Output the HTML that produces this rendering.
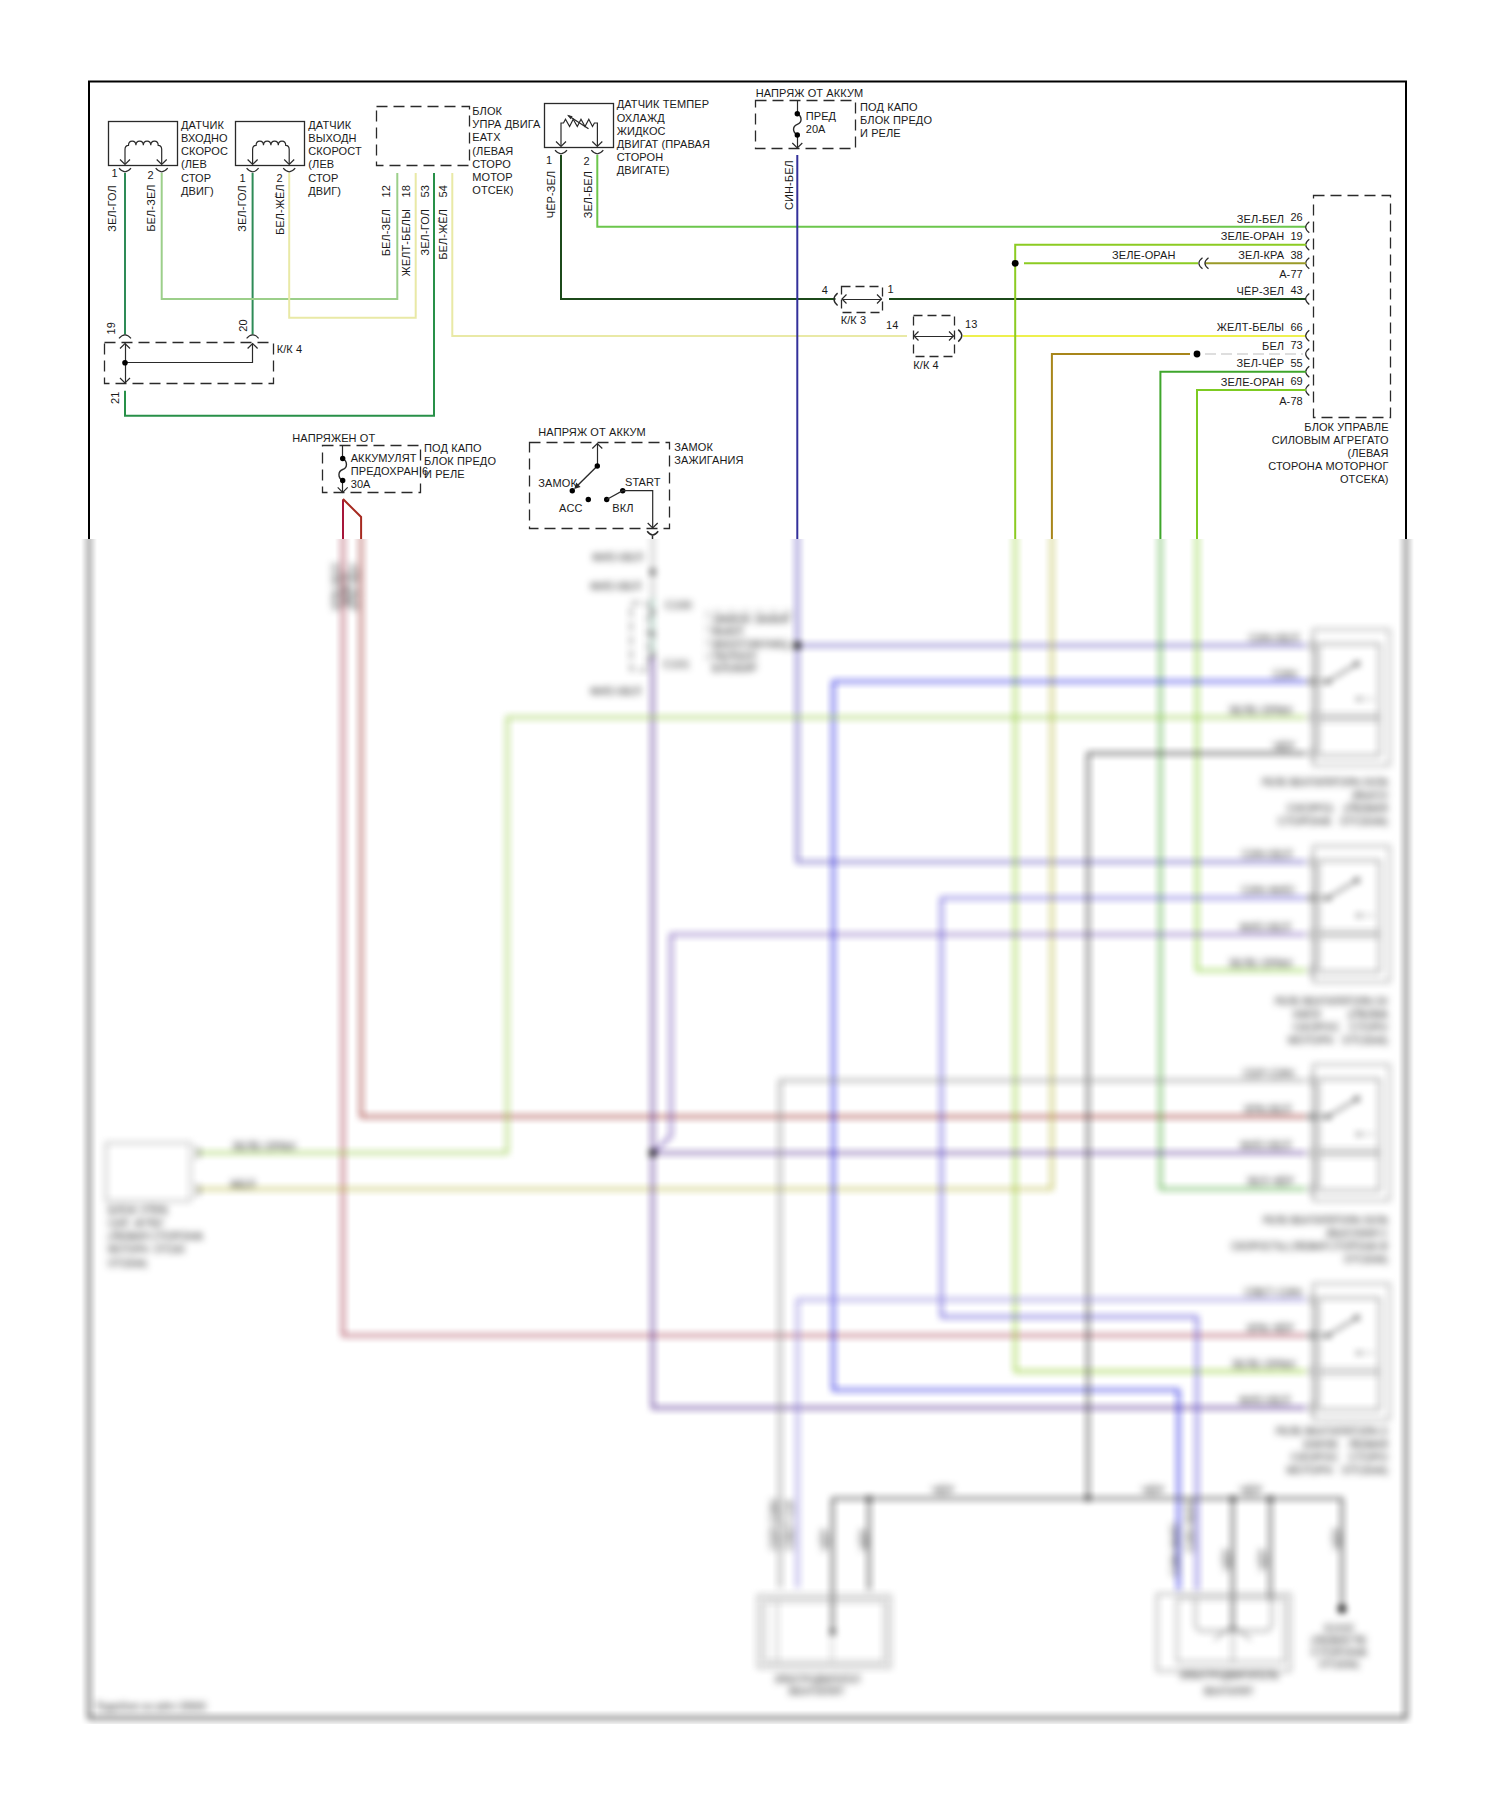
<!DOCTYPE html>
<html lang="ru">
<head>
<meta charset="utf-8">
<title>Схема</title>
<style>
html,body{margin:0;padding:0;background:#fff;}
body{width:1500px;height:1799px;overflow:hidden;position:relative;}
svg{position:absolute;left:0;top:0;display:block;}
svg text{font-family:"Liberation Sans",sans-serif;font-size:11px;letter-spacing:0.1px;fill:#1a1a1a;}
</style>
</head>
<body>
<svg width="1500" height="1799" viewBox="0 0 1500 1799">
<defs>
<filter id="bl" filterUnits="userSpaceOnUse" x="60" y="500" width="1380" height="1240" color-interpolation-filters="sRGB">
<feConvolveMatrix order="15 1" kernelMatrix="1 2 3 4 5 6 7 7 7 6 5 4 3 2 1" divisor="63" edgeMode="none" preserveAlpha="false" result="a"/>
<feConvolveMatrix in="a" order="1 15" kernelMatrix="1 2 3 4 5 6 7 7 7 6 5 4 3 2 1" divisor="63" edgeMode="none" preserveAlpha="false"/>
</filter>
<filter id="tb" filterUnits="userSpaceOnUse" x="60" y="500" width="1380" height="1240" color-interpolation-filters="sRGB"><feGaussianBlur stdDeviation="1.8"/></filter>
<clipPath id="cb"><rect x="0" y="539" width="1500" height="1185"/></clipPath>
</defs>
<rect width="1500" height="1799" fill="#fff"/>
<g id="top" opacity="0.999">
<path d="M89 540 L89 81.5 L1406 81.5 L1406 540" stroke="#000" stroke-width="2" fill="none" />
<rect x="108.5" y="121.5" width="69" height="44" stroke="#2a2a2a" stroke-width="1.3" fill="none"/>
<path d="M125 164 L125 149.5 Q125 145.3 128.5 145.3 C128.5 139.7 135.925 139.7 135.925 145.3 C135.925 139.7 143.35 139.7 143.35 145.3 C143.35 139.7 150.775 139.7 150.775 145.3 C150.775 139.7 158.2 139.7 158.2 145.3 Q161.7 145.3 161.7 149.5 L161.7 164" stroke="#2a2a2a" stroke-width="1.2" fill="none"/>
<path d="M120 159.5 L125 164.5 L130 159.5" stroke="#2a2a2a" stroke-width="1.2" fill="none" />
<path d="M156.7 159.5 L161.7 164.5 L166.7 159.5" stroke="#2a2a2a" stroke-width="1.2" fill="none" />
<path d="M119 168.2 Q125 175.4 131 168.2" stroke="#2a2a2a" stroke-width="1.2" fill="none"/>
<path d="M155.7 168.2 Q161.7 175.4 167.7 168.2" stroke="#2a2a2a" stroke-width="1.2" fill="none"/>
<rect x="235.5" y="121.5" width="69" height="44" stroke="#2a2a2a" stroke-width="1.3" fill="none"/>
<path d="M252.6 164 L252.6 149.5 Q252.6 145.3 256.1 145.3 C256.1 139.7 263.5 139.7 263.5 145.3 C263.5 139.7 270.9 139.7 270.9 145.3 C270.9 139.7 278.3 139.7 278.3 145.3 C278.3 139.7 285.7 139.7 285.7 145.3 Q289.2 145.3 289.2 149.5 L289.2 164" stroke="#2a2a2a" stroke-width="1.2" fill="none"/>
<path d="M247.6 159.5 L252.6 164.5 L257.6 159.5" stroke="#2a2a2a" stroke-width="1.2" fill="none" />
<path d="M284.2 159.5 L289.2 164.5 L294.2 159.5" stroke="#2a2a2a" stroke-width="1.2" fill="none" />
<path d="M246.6 168.2 Q252.6 175.4 258.6 168.2" stroke="#2a2a2a" stroke-width="1.2" fill="none"/>
<path d="M283.2 168.2 Q289.2 175.4 295.2 168.2" stroke="#2a2a2a" stroke-width="1.2" fill="none"/>
<text x="181" y="128.7" >ДАТЧИК</text>
<text x="181" y="141.9" >ВХОДНО</text>
<text x="181" y="155.1" >СКОРОС</text>
<text x="181" y="168.3" >(ЛЕВ</text>
<text x="181" y="181.5" >СТОР</text>
<text x="181" y="194.7" >ДВИГ)</text>
<text x="308.3" y="128.7" >ДАТЧИК</text>
<text x="308.3" y="141.9" >ВЫХОДН</text>
<text x="308.3" y="155.1" >СКОРОСТ</text>
<text x="308.3" y="168.3" >(ЛЕВ</text>
<text x="308.3" y="181.5" >СТОР</text>
<text x="308.3" y="194.7" >ДВИГ)</text>
<text x="111.5" y="176.7" >1</text>
<text x="147.5" y="178.7" >2</text>
<text x="239.5" y="181.7" >1</text>
<text x="276.5" y="181.7" >2</text>
<text x="116" y="231.7" transform="rotate(-90 116 231.7)"  letter-spacing="-0.5">ЗЕЛ-ГОЛ</text>
<text x="155" y="231.7" transform="rotate(-90 155 231.7)"  letter-spacing="-0.5">БЕЛ-ЗЕЛ</text>
<text x="245.8" y="231.7" transform="rotate(-90 245.8 231.7)"  letter-spacing="-0.5">ЗЕЛ-ГОЛ</text>
<text x="283.7" y="235" transform="rotate(-90 283.7 235)"  letter-spacing="-0.5">БЕЛ-ЖЁЛ</text>
<path d="M125 173 L125 334.5" stroke="#2e8b57" stroke-width="2" fill="none" />
<path d="M252.6 173 L252.6 334.5" stroke="#2e8b57" stroke-width="2" fill="none" />
<path d="M161.7 173 L161.7 299 L397.3 299 L397.3 173" stroke="#9ccf8a" stroke-width="2" fill="none" />
<path d="M289.2 173 L289.2 317.7 L415.7 317.7 L415.7 173" stroke="#e9e9a6" stroke-width="2" fill="none" />
<path d="M119 338.4 Q125 331.2 131 338.4" stroke="#2a2a2a" stroke-width="1.2" fill="none"/>
<path d="M246.6 338.4 Q252.6 331.2 258.6 338.4" stroke="#2a2a2a" stroke-width="1.2" fill="none"/>
<rect x="104.5" y="342.5" width="169" height="41" stroke="#2a2a2a" stroke-width="1.3" fill="none" stroke-dasharray="11 6"/>
<path d="M125.5 343.5 L125.5 382.5" stroke="#2a2a2a" stroke-width="1.2" fill="none" />
<path d="M125.5 362.5 L252.5 362.5 L252.5 343.5" stroke="#2a2a2a" stroke-width="1.2" fill="none" />
<path d="M120 348.5 L125 343.5 L130 348.5" stroke="#2a2a2a" stroke-width="1.2" fill="none" />
<path d="M247.6 348.5 L252.6 343.5 L257.6 348.5" stroke="#2a2a2a" stroke-width="1.2" fill="none" />
<path d="M120 378 L125 383 L130 378" stroke="#2a2a2a" stroke-width="1.2" fill="none" />
<circle cx="125" cy="362.7" r="2.8" fill="#000"/>
<text x="276.7" y="353.3" >К/К 4</text>
<text x="115.3" y="334.4" transform="rotate(-90 115.3 334.4)"  letter-spacing="-0.5">19</text>
<text x="246.7" y="331.7" transform="rotate(-90 246.7 331.7)"  letter-spacing="-0.5">20</text>
<text x="118.7" y="404" transform="rotate(-90 118.7 404)"  letter-spacing="-0.5">21</text>
<path d="M125 390.7 L125 415.7 L434 415.7 L434 173" stroke="#289048" stroke-width="2" fill="none" />
<rect x="376.5" y="106.5" width="93" height="59" stroke="#2a2a2a" stroke-width="1.3" fill="none" stroke-dasharray="11 6"/>
<text x="472.3" y="115" >БЛОК</text>
<text x="472.3" y="128.2" >УПРА ДВИГА</text>
<text x="472.3" y="141.4" >EATX</text>
<text x="472.3" y="154.6" >(ЛЕВАЯ</text>
<text x="472.3" y="167.8" >СТОРО</text>
<text x="472.3" y="181" >МОТОР</text>
<text x="472.3" y="194.2" >ОТСЕК)</text>
<text x="390" y="185" text-anchor="end" transform="rotate(-90 390 185)"  letter-spacing="-0.5">12</text>
<text x="390" y="209" text-anchor="end" transform="rotate(-90 390 209)"  letter-spacing="-0.5">БЕЛ-ЗЕЛ</text>
<text x="409.5" y="185" text-anchor="end" transform="rotate(-90 409.5 185)"  letter-spacing="-0.5">18</text>
<text x="409.5" y="209" text-anchor="end" transform="rotate(-90 409.5 209)"  letter-spacing="-0.5">ЖЕЛТ-БЕЛЫ</text>
<text x="428.5" y="185" text-anchor="end" transform="rotate(-90 428.5 185)"  letter-spacing="-0.5">53</text>
<text x="428.5" y="209" text-anchor="end" transform="rotate(-90 428.5 209)"  letter-spacing="-0.5">ЗЕЛ-ГОЛ</text>
<text x="446.7" y="185" text-anchor="end" transform="rotate(-90 446.7 185)"  letter-spacing="-0.5">54</text>
<text x="446.7" y="209" text-anchor="end" transform="rotate(-90 446.7 209)"  letter-spacing="-0.5">БЕЛ-ЖЁЛ</text>
<path d="M452.3 173 L452.3 336 L907 336" stroke="#e9e9a6" stroke-width="2" fill="none" />
<rect x="544.5" y="103.5" width="69" height="44" stroke="#2a2a2a" stroke-width="1.3" fill="none"/>
<path d="M561 146 L561 123 L563.5 123 L565.5 119.3 L569.6 126.5 L573.2 119.3 L577.3 126.5 L581 119.3 L585 126.5 L588.8 119.3 L592.5 126.5 L594.4 123 L597.4 123 L597.4 146" stroke="#2a2a2a" stroke-width="1.2" fill="none" />
<path d="M588.5 128.7 L568.5 115.8" stroke="#2a2a2a" stroke-width="1.3" fill="none" />
<path d="M567 114.8 L572.6 116.2 L570.6 119.2 Z" fill="#2a2a2a"/>
<path d="M556 141.5 L561 146.5 L566 141.5" stroke="#2a2a2a" stroke-width="1.2" fill="none" />
<path d="M592.3 141.5 L597.3 146.5 L602.3 141.5" stroke="#2a2a2a" stroke-width="1.2" fill="none" />
<path d="M555 150.2 Q561 157.4 567 150.2" stroke="#2a2a2a" stroke-width="1.2" fill="none"/>
<path d="M591.3 150.2 Q597.3 157.4 603.3 150.2" stroke="#2a2a2a" stroke-width="1.2" fill="none"/>
<text x="616.7" y="108.3" >ДАТЧИК ТЕМПЕР</text>
<text x="616.7" y="121.5" >ОХЛАЖД</text>
<text x="616.7" y="134.7" >ЖИДКОС</text>
<text x="616.7" y="147.9" >ДВИГАТ (ПРАВАЯ</text>
<text x="616.7" y="161.1" >СТОРОН</text>
<text x="616.7" y="174.3" >ДВИГАТЕ)</text>
<text x="546" y="164" >1</text>
<text x="583.5" y="165" >2</text>
<text x="555" y="218.3" transform="rotate(-90 555 218.3)"  letter-spacing="-0.5">ЧЁР-ЗЕЛ</text>
<text x="591.7" y="218.3" transform="rotate(-90 591.7 218.3)"  letter-spacing="-0.5">ЗЕЛ-БЕЛ</text>
<path d="M561 155 L561 299 L835.5 299" stroke="#1c4a1a" stroke-width="2" fill="none" />
<path d="M889 299 L1306 299" stroke="#1c4a1a" stroke-width="2" fill="none" />
<path d="M597.3 155 L597.3 226.8 L1306 226.8" stroke="#6cc64c" stroke-width="2" fill="none" />
<text x="755.7" y="97.3" >НАПРЯЖ ОТ АККУМ</text>
<rect x="755.5" y="100.5" width="100" height="48" stroke="#2a2a2a" stroke-width="1.3" fill="none" stroke-dasharray="11 6"/>
<path d="M797.5 100.5 L797.5 113.5" stroke="#2a2a2a" stroke-width="1.2" fill="none" />
<path d="M797.3 113.7 C802.3 116.7 802.3 122.35 797.3 124.35 C792.3 126.35 792.3 132 797.3 135" stroke="#2a2a2a" stroke-width="1.4" fill="none"/>
<path d="M797.5 135.5 L797.5 148.5" stroke="#2a2a2a" stroke-width="1.2" fill="none" />
<circle cx="797.3" cy="113.7" r="2.7" fill="#000"/>
<circle cx="797.3" cy="135" r="2.7" fill="#000"/>
<path d="M792.3 143 L797.3 148 L802.3 143" stroke="#2a2a2a" stroke-width="1.2" fill="none" />
<text x="805.7" y="120" >ПРЕД</text>
<text x="805.7" y="133.3" >20А</text>
<text x="860" y="110.7" >ПОД КАПО</text>
<text x="860" y="123.9" >БЛОК ПРЕДО</text>
<text x="860" y="137.1" >И РЕЛЕ</text>
<text x="792.7" y="210" transform="rotate(-90 792.7 210)"  letter-spacing="-0.5">СИН-БЕЛ</text>
<path d="M797.3 155 L797.3 540" stroke="#33309a" stroke-width="2" fill="none" />
<rect x="841.5" y="286.5" width="41" height="26" stroke="#2a2a2a" stroke-width="1.3" fill="none" stroke-dasharray="9 5"/>
<path d="M842.5 299.5 L881.5 299.5" stroke="#2a2a2a" stroke-width="1.2" fill="none" />
<path d="M846.5 294.5 L842 299 L846.5 303.5" stroke="#2a2a2a" stroke-width="1.2" fill="none" />
<path d="M877 294.5 L881.5 299 L877 303.5" stroke="#2a2a2a" stroke-width="1.2" fill="none" />
<path d="M837.6 293.1 Q830.4 299.3 837.6 305.5" stroke="#2a2a2a" stroke-width="1.4" fill="none"/>
<text x="821.7" y="294" >4</text>
<text x="887.5" y="292.7" >1</text>
<text x="840.7" y="324" >К/К 3</text>
<rect x="913.5" y="315.5" width="41" height="41" stroke="#2a2a2a" stroke-width="1.3" fill="none" stroke-dasharray="9 5"/>
<path d="M914.5 336.5 L953.5 336.5" stroke="#2a2a2a" stroke-width="1.2" fill="none" />
<path d="M918.5 331.5 L914 336 L918.5 340.5" stroke="#2a2a2a" stroke-width="1.2" fill="none" />
<path d="M949 331.5 L953.5 336 L949 340.5" stroke="#2a2a2a" stroke-width="1.2" fill="none" />
<path d="M958.2 329.6 Q965.4 335.6 958.2 341.6" stroke="#2a2a2a" stroke-width="1.4" fill="none"/>
<text x="886" y="329.3" >14</text>
<text x="965" y="328.3" >13</text>
<text x="913.3" y="369" >К/К 4</text>
<path d="M963 336 L1306 336" stroke="#eef04e" stroke-width="2" fill="none" />
<rect x="1313.5" y="195.5" width="77" height="222" stroke="#2a2a2a" stroke-width="1.3" fill="none" stroke-dasharray="11 6"/>
<text x="1284.2" y="222.7" text-anchor="end" >ЗЕЛ-БЕЛ</text>
<text x="1290.4" y="221.3" >26</text>
<path d="M1309.3 221.7 Q1302.1 227.2 1309.3 232.7" stroke="#2a2a2a" stroke-width="1.2" fill="none"/>
<text x="1284.2" y="240.3" text-anchor="end" >ЗЕЛЕ-ОРАН</text>
<text x="1290.4" y="240.2" >19</text>
<path d="M1309.3 239.3 Q1302.1 244.8 1309.3 250.3" stroke="#2a2a2a" stroke-width="1.2" fill="none"/>
<text x="1284.2" y="258.8" text-anchor="end" >ЗЕЛ-КРА</text>
<text x="1290.4" y="258.7" >38</text>
<path d="M1309.3 257.8 Q1302.1 263.3 1309.3 268.8" stroke="#2a2a2a" stroke-width="1.2" fill="none"/>
<text x="1284.2" y="294.5" text-anchor="end" >ЧЁР-ЗЕЛ</text>
<text x="1290.4" y="294.4" >43</text>
<path d="M1309.3 293.5 Q1302.1 299 1309.3 304.5" stroke="#2a2a2a" stroke-width="1.2" fill="none"/>
<text x="1284.2" y="331.3" text-anchor="end" >ЖЕЛТ-БЕЛЫ</text>
<text x="1290.4" y="331.2" >66</text>
<path d="M1309.3 330.3 Q1302.1 335.8 1309.3 341.3" stroke="#2a2a2a" stroke-width="1.2" fill="none"/>
<text x="1284.2" y="349.5" text-anchor="end" >БЕЛ</text>
<text x="1290.4" y="349.4" >73</text>
<path d="M1309.3 348.5 Q1302.1 354 1309.3 359.5" stroke="#2a2a2a" stroke-width="1.2" fill="none"/>
<text x="1284.2" y="367.3" text-anchor="end" >ЗЕЛ-ЧЁР</text>
<text x="1290.4" y="367.2" >55</text>
<path d="M1309.3 366.3 Q1302.1 371.8 1309.3 377.3" stroke="#2a2a2a" stroke-width="1.2" fill="none"/>
<text x="1284.2" y="385.5" text-anchor="end" >ЗЕЛЕ-ОРАН</text>
<text x="1290.4" y="385.4" >69</text>
<path d="M1309.3 384.5 Q1302.1 390 1309.3 395.5" stroke="#2a2a2a" stroke-width="1.2" fill="none"/>
<text x="1279.2" y="278" >А-77</text>
<text x="1279.2" y="404.7" >А-78</text>
<text x="1112" y="258.9" >ЗЕЛЕ-ОРАН</text>
<text x="1388.6" y="431" text-anchor="end" >БЛОК УПРАВЛЕ</text>
<text x="1388.6" y="444.05" text-anchor="end" >СИЛОВЫМ АГРЕГАТО</text>
<text x="1388.6" y="457.1" text-anchor="end" >(ЛЕВАЯ</text>
<text x="1388.6" y="470.15" text-anchor="end" >СТОРОНА МОТОРНОГ</text>
<text x="1388.6" y="483.2" text-anchor="end" >ОТСЕКА)</text>
<path d="M1015.2 540 L1015.2 244.8 L1306 244.8" stroke="#8ccb22" stroke-width="2" fill="none" />
<path d="M1024 263.3 L1198 263.3" stroke="#8ccb22" stroke-width="2" fill="none" />
<path d="M1205 263.3 L1306 263.3" stroke="#9a9a28" stroke-width="2" fill="none" />
<path d="M1202.5 257.8 Q1195.3 263.3 1202.5 268.8" stroke="#2a2a2a" stroke-width="1.2" fill="none"/>
<path d="M1208.5 257.8 Q1201.3 263.3 1208.5 268.8" stroke="#2a2a2a" stroke-width="1.2" fill="none"/>
<circle cx="1015.2" cy="263.3" r="3.4" fill="#000"/>
<path d="M1051.9 540 L1051.9 354 L1190 354" stroke="#a8861a" stroke-width="2" fill="none" />
<path d="M1205 354 L1303 354" stroke="#d4d4d4" stroke-width="1.6" fill="none" stroke-dasharray="11 5"/>
<circle cx="1197" cy="354" r="3.4" fill="#000"/>
<path d="M1160.4 540 L1160.4 371.8 L1306 371.8" stroke="#3fa62c" stroke-width="2" fill="none" />
<path d="M1197 540 L1197 390 L1306 390" stroke="#7dcb22" stroke-width="2" fill="none" />
<text x="292.3" y="441.7" >НАПРЯЖЕН ОТ</text>
<rect x="322.5" y="445.5" width="98" height="47" stroke="#2a2a2a" stroke-width="1.3" fill="none" stroke-dasharray="11 6"/>
<path d="M342.5 445.5 L342.5 458.5" stroke="#2a2a2a" stroke-width="1.2" fill="none" />
<path d="M342.7 458.5 C347.7 461.5 347.7 467.5 342.7 469.5 C337.7 471.5 337.7 477.5 342.7 480.5" stroke="#2a2a2a" stroke-width="1.4" fill="none"/>
<path d="M342.5 480.5 L342.5 492.5" stroke="#2a2a2a" stroke-width="1.2" fill="none" />
<circle cx="342.7" cy="458.5" r="2.7" fill="#000"/>
<circle cx="342.7" cy="480.5" r="2.7" fill="#000"/>
<path d="M337.7 487.3 L342.7 492.3 L347.7 487.3" stroke="#2a2a2a" stroke-width="1.2" fill="none" />
<text x="350.7" y="461.7" >АККУМУЛЯТ</text>
<text x="350.7" y="474.7" >ПРЕДОХРАН 6</text>
<text x="350.7" y="487.7" >30А</text>
<text x="424" y="451.7" >ПОД КАПО</text>
<text x="424" y="464.7" >БЛОК ПРЕДО</text>
<text x="424" y="477.7" >И РЕЛЕ</text>
<path d="M343 540 L343 499.5" stroke="#a6163a" stroke-width="2" fill="none" />
<path d="M343 499 L361.1 517 L361.1 540" stroke="#a62a20" stroke-width="2" fill="none" />
<text x="538.3" y="436" >НАПРЯЖ ОТ АККУМ</text>
<rect x="529.5" y="442.5" width="140" height="86" stroke="#2a2a2a" stroke-width="1.3" fill="none" stroke-dasharray="11 6"/>
<text x="674.3" y="451" >ЗАМОК</text>
<text x="674.3" y="464" >ЗАЖИГАНИЯ</text>
<path d="M597.5 466.5 L597.5 443.5" stroke="#2a2a2a" stroke-width="1.2" fill="none" />
<path d="M592.3 448.5 L597.3 443.5 L602.3 448.5" stroke="#2a2a2a" stroke-width="1.2" fill="none" />
<path d="M597.3 466 L575.5 487.6" stroke="#2a2a2a" stroke-width="1.4" fill="none" />
<path d="M574.2 489 L576.2 482.6 L580.6 487 Z" fill="#2a2a2a"/>
<circle cx="597.3" cy="466" r="2.7" fill="#000"/>
<circle cx="572.3" cy="490.7" r="2.7" fill="#000"/>
<circle cx="588.3" cy="499.5" r="2.7" fill="#000"/>
<circle cx="606.7" cy="499.5" r="2.7" fill="#000"/>
<circle cx="622.7" cy="490.7" r="2.7" fill="#000"/>
<path d="M606.7 499.5 L622.7 490.7 L652.7 490.7 L652.7 527.5" stroke="#2a2a2a" stroke-width="1.2" fill="none" />
<path d="M647.7 523 L652.7 528 L657.7 523" stroke="#2a2a2a" stroke-width="1.2" fill="none" />
<path d="M647.2 531.3 Q652.7 538.5 658.2 531.3" stroke="#2a2a2a" stroke-width="1.5" fill="none"/>
<path d="M652.5 535.5 L652.5 540.5" stroke="#2a2a2a" stroke-width="1.5" fill="none" />
<text x="538.3" y="487.3" >ЗАМОК</text>
<text x="559" y="511.7" >ACC</text>
<text x="625" y="485.7" >START</text>
<text x="612.3" y="512.3" >ВКЛ</text>
</g>
<g clip-path="url(#cb)">
<rect x="0" y="539" width="1500" height="1185" fill="#fff"/>
<g filter="url(#bl)" opacity="1" class="bt">
<path d="M89 509 L89 1718 L1406 1718 L1406 509" stroke="#000" stroke-width="2.016" fill="none" />
<path d="M343 509 L343 1335.5 L1306 1335.5" stroke="#9d2a3f" stroke-width="2.24" fill="none" />
<path d="M361.1 509 L361.1 1116.7 L1306 1116.7" stroke="#962420" stroke-width="2.24" fill="none" />
<path d="M797.3 509 L797.3 862 L1306 862" stroke="#4a3cb4" stroke-width="2.24" fill="none" />
<path d="M797.3 645.5 L1306 645.5" stroke="#4a3cb4" stroke-width="2.24" fill="none" />
<circle cx="797.3" cy="645.5" r="3.7" fill="#000"/>
<path d="M1015.2 509 L1015.2 1371.3 L1306 1371.3" stroke="#8ccb22" stroke-width="2.24" fill="none" />
<path d="M1051.9 509 L1051.9 1189 L197 1189" stroke="#b4b434" stroke-width="2.24" fill="none" />
<path d="M1160.4 509 L1160.4 1189 L1306 1189" stroke="#3fa62c" stroke-width="2.24" fill="none" />
<path d="M1197 509 L1197 970.5 L1306 970.5" stroke="#7dcb22" stroke-width="2.24" fill="none" />
<path d="M652.7 509 L652.7 600" stroke="#9c9c9c" stroke-width="1.792" fill="none" />
<path d="M652.7 598 L652.7 660" stroke="#7fb09c" stroke-width="2.24" fill="none" />
<path d="M652.7 655 L652.7 1407.8 L1306 1407.8" stroke="#48208a" stroke-width="2.24" fill="none" />
<path d="M652.7 1153 L1306 1153" stroke="#48208a" stroke-width="2.24" fill="none" />
<path d="M652.7 1153 L671 1136 L671 934.5 L1306 934.5" stroke="#6a48b0" stroke-width="2.24" fill="none" />
<circle cx="652.7" cy="1153" r="3.7" fill="#000"/>
<path d="M1306 681.5 L833.3 681.5 L833.3 1390 L1178.5 1390 L1178.5 1590" stroke="#0c0ce0" stroke-width="2.24" fill="none" />
<path d="M1306 898 L941.5 898 L941.5 1316.8 L1197 1316.8 L1197 1590" stroke="#5548d4" stroke-width="2.24" fill="none" />
<path d="M1306 717.3 L507.2 717.3 L507.2 1152.8 L197 1152.8" stroke="#98cc4a" stroke-width="2.24" fill="none" />
<path d="M1306 753.3 L1088 753.3 L1088 1498.5" stroke="#3a3a3a" stroke-width="2.24" fill="none" />
<path d="M1306 1080.5 L780 1080.5 L780 1588" stroke="#8a8a8a" stroke-width="2.24" fill="none" />
<path d="M1306 1299.6 L797.6 1299.6 L797.6 1588" stroke="#8a80dc" stroke-width="2.24" fill="none" />
<path d="M832.6 1634 L832.6 1498.5 L1342 1498.5 L1342 1609" stroke="#3a3a3a" stroke-width="2.24" fill="none" />
<path d="M869 1498.5 L869 1590" stroke="#3a3a3a" stroke-width="2.24" fill="none" />
<path d="M1232.8 1498.5 L1232.8 1632" stroke="#3a3a3a" stroke-width="2.24" fill="none" />
<path d="M1270.3 1498.5 L1270.3 1600" stroke="#3a3a3a" stroke-width="2.24" fill="none" />
<circle cx="869" cy="1498.5" r="2.7" fill="#222"/>
<circle cx="1088" cy="1498.5" r="2.7" fill="#222"/>
<circle cx="1232.8" cy="1498.5" r="2.7" fill="#222"/>
<circle cx="1270.3" cy="1498.5" r="2.7" fill="#222"/>
<circle cx="1342" cy="1609" r="4" fill="#000"/>
<rect x="1313" y="629.5" width="76.5" height="136" stroke="#8c8c8c" stroke-width="1.5" fill="none"/>
<rect x="1318.5" y="644" width="61" height="111.5" stroke="#6a6a6a" stroke-width="1.4" fill="none"/>
<path d="M1318.5 715 L1379.5 715" stroke="#777" stroke-width="1.344" fill="none" />
<path d="M1318.5 720 L1379.5 720" stroke="#777" stroke-width="1.344" fill="none" />
<path d="M1314.7 639.5 L1314.7 759.5" stroke="#aaa" stroke-width="1.12" fill="none" />
<path d="M1313.5 640 Q1306.3 645.5 1313.5 651" stroke="#666" stroke-width="1.1" fill="none"/>
<path d="M1313.5 676 Q1306.3 681.5 1313.5 687" stroke="#666" stroke-width="1.1" fill="none"/>
<path d="M1313.5 711.8 Q1306.3 717.3 1313.5 722.8" stroke="#666" stroke-width="1.1" fill="none"/>
<path d="M1313.5 747.8 Q1306.3 753.3 1313.5 758.8" stroke="#666" stroke-width="1.1" fill="none"/>
<path d="M1306 681.5 L1328 681.5 L1356.5 664" stroke="#555" stroke-width="1.68" fill="none" />
<circle cx="1328" cy="681.5" r="2.6" fill="#555"/>
<circle cx="1357" cy="663.7" r="2.8" fill="#666"/>
<circle cx="1358.5" cy="699" r="2.2" fill="#777"/>
<path d="M1358.5 699 L1374 699" stroke="#999" stroke-width="1.12" fill="none" />
<rect x="1313" y="846" width="76.5" height="136" stroke="#8c8c8c" stroke-width="1.5" fill="none"/>
<rect x="1318.5" y="860.5" width="61" height="111.5" stroke="#6a6a6a" stroke-width="1.4" fill="none"/>
<path d="M1318.5 931.5 L1379.5 931.5" stroke="#777" stroke-width="1.344" fill="none" />
<path d="M1318.5 936.5 L1379.5 936.5" stroke="#777" stroke-width="1.344" fill="none" />
<path d="M1314.7 856 L1314.7 976" stroke="#aaa" stroke-width="1.12" fill="none" />
<path d="M1313.5 856.5 Q1306.3 862 1313.5 867.5" stroke="#666" stroke-width="1.1" fill="none"/>
<path d="M1313.5 892.5 Q1306.3 898 1313.5 903.5" stroke="#666" stroke-width="1.1" fill="none"/>
<path d="M1313.5 929 Q1306.3 934.5 1313.5 940" stroke="#666" stroke-width="1.1" fill="none"/>
<path d="M1313.5 965 Q1306.3 970.5 1313.5 976" stroke="#666" stroke-width="1.1" fill="none"/>
<path d="M1306 898 L1328 898 L1356.5 880.5" stroke="#555" stroke-width="1.68" fill="none" />
<circle cx="1328" cy="898" r="2.6" fill="#555"/>
<circle cx="1357" cy="880.2" r="2.8" fill="#666"/>
<circle cx="1358.5" cy="915.5" r="2.2" fill="#777"/>
<path d="M1358.5 915.5 L1374 915.5" stroke="#999" stroke-width="1.12" fill="none" />
<rect x="1313" y="1064.5" width="76.5" height="136" stroke="#8c8c8c" stroke-width="1.5" fill="none"/>
<rect x="1318.5" y="1079" width="61" height="111.5" stroke="#6a6a6a" stroke-width="1.4" fill="none"/>
<path d="M1318.5 1150 L1379.5 1150" stroke="#777" stroke-width="1.344" fill="none" />
<path d="M1318.5 1155 L1379.5 1155" stroke="#777" stroke-width="1.344" fill="none" />
<path d="M1314.7 1074.5 L1314.7 1194.5" stroke="#aaa" stroke-width="1.12" fill="none" />
<path d="M1313.5 1075 Q1306.3 1080.5 1313.5 1086" stroke="#666" stroke-width="1.1" fill="none"/>
<path d="M1313.5 1111.2 Q1306.3 1116.7 1313.5 1122.2" stroke="#666" stroke-width="1.1" fill="none"/>
<path d="M1313.5 1147.5 Q1306.3 1153 1313.5 1158.5" stroke="#666" stroke-width="1.1" fill="none"/>
<path d="M1313.5 1183.5 Q1306.3 1189 1313.5 1194.5" stroke="#666" stroke-width="1.1" fill="none"/>
<path d="M1306 1116.7 L1328 1116.7 L1356.5 1099.2" stroke="#555" stroke-width="1.68" fill="none" />
<circle cx="1328" cy="1116.7" r="2.6" fill="#555"/>
<circle cx="1357" cy="1098.9" r="2.8" fill="#666"/>
<circle cx="1358.5" cy="1134.2" r="2.2" fill="#777"/>
<path d="M1358.5 1134.2 L1374 1134.2" stroke="#999" stroke-width="1.12" fill="none" />
<rect x="1313" y="1283.6" width="76.5" height="136" stroke="#8c8c8c" stroke-width="1.5" fill="none"/>
<rect x="1318.5" y="1298.1" width="61" height="111.5" stroke="#6a6a6a" stroke-width="1.4" fill="none"/>
<path d="M1318.5 1369.1 L1379.5 1369.1" stroke="#777" stroke-width="1.344" fill="none" />
<path d="M1318.5 1374.1 L1379.5 1374.1" stroke="#777" stroke-width="1.344" fill="none" />
<path d="M1314.7 1293.6 L1314.7 1413.6" stroke="#aaa" stroke-width="1.12" fill="none" />
<path d="M1313.5 1294.1 Q1306.3 1299.6 1313.5 1305.1" stroke="#666" stroke-width="1.1" fill="none"/>
<path d="M1313.5 1330 Q1306.3 1335.5 1313.5 1341" stroke="#666" stroke-width="1.1" fill="none"/>
<path d="M1313.5 1365.8 Q1306.3 1371.3 1313.5 1376.8" stroke="#666" stroke-width="1.1" fill="none"/>
<path d="M1313.5 1402.3 Q1306.3 1407.8 1313.5 1413.3" stroke="#666" stroke-width="1.1" fill="none"/>
<path d="M1306 1335.5 L1328 1335.5 L1356.5 1318" stroke="#555" stroke-width="1.68" fill="none" />
<circle cx="1328" cy="1335.5" r="2.6" fill="#555"/>
<circle cx="1357" cy="1317.7" r="2.8" fill="#666"/>
<circle cx="1358.5" cy="1353" r="2.2" fill="#777"/>
<path d="M1358.5 1353 L1374 1353" stroke="#999" stroke-width="1.12" fill="none" />
<rect x="106" y="1143" width="84.5" height="58" stroke="#a0a0a0" stroke-width="1.5" fill="none"/>
<path d="M196 1147 Q203.2 1152.5 196 1158" stroke="#2a2a2a" stroke-width="1.2" fill="none"/>
<path d="M196 1184.5 Q203.2 1190 196 1195.5" stroke="#2a2a2a" stroke-width="1.2" fill="none"/>
<circle cx="652.7" cy="572" r="3" fill="#444"/>
<circle cx="652.7" cy="612" r="2.5" fill="#666"/>
<circle cx="652.7" cy="634" r="2.5" fill="#666"/>
<circle cx="652.7" cy="655" r="2.5" fill="#666"/>
<rect x="631" y="603" width="17" height="67" stroke="#555" stroke-width="1.4" fill="none" stroke-dasharray="9 5"/>
<path d="M792 611 L707 611 L707 664" stroke="#999" stroke-width="1.232" fill="none" stroke-dasharray="9 5"/>
<rect x="758" y="1595.5" width="132.5" height="72" stroke="#8c8c8c" stroke-width="1.5" fill="none"/>
<rect x="764.5" y="1601" width="120" height="61" stroke="#7a7a7a" stroke-width="1.3" fill="none"/>
<path d="M777 1601 L777 1662" stroke="#999" stroke-width="1.344" fill="none" />
<path d="M832 1634 L832 1662" stroke="#aaa" stroke-width="1.344" fill="none" />
<circle cx="832.6" cy="1632" r="3" fill="#444"/>
<rect x="1157" y="1594" width="133.5" height="77" stroke="#8c8c8c" stroke-width="1.5" fill="none"/>
<rect x="1177" y="1598.5" width="107.5" height="63.5" stroke="#7a7a7a" stroke-width="1.3" fill="none"/>
<path d="M1195.5 1598 V1624 Q1195.5 1630.8 1202 1630.8 H1265 Q1271.7 1630.8 1271.7 1624 V1598" stroke="#777" stroke-width="1.4" fill="none"/>
<path d="M1232.8 1630 L1232.8 1662" stroke="#888" stroke-width="1.456" fill="none" />
<path d="M1214 1640 L1232.8 1626 L1251 1640" stroke="#777" stroke-width="1.456" fill="none" />
<g filter="url(#tb)">
<text x="1299" y="641.7" text-anchor="end" fill="#334" >СИН-БЕЛ</text>
<text x="1297" y="677.7" text-anchor="end" fill="#335" >СИН</text>
<text x="1292" y="713.5" text-anchor="end" fill="#453" >ЗЕЛЕ-ОРАН</text>
<text x="1295" y="749.5" text-anchor="end" fill="#333" >ЧЁР</text>
<text x="1388" y="786" text-anchor="end" fill="#3c3c3c" textLength="126" lengthAdjust="spacingAndGlyphs" xml:space="preserve">РЕЛЕ ВЕНТИЛЯТОРА ОХЛА</text>
<text x="1388" y="799.1" text-anchor="end" fill="#3c3c3c" textLength="36" lengthAdjust="spacingAndGlyphs" xml:space="preserve">(ВЫСО</text>
<text x="1388" y="812.2" text-anchor="end" fill="#3c3c3c" textLength="101" lengthAdjust="spacingAndGlyphs" xml:space="preserve">СКОРО)   (ЛЕВАЯ</text>
<text x="1388" y="825.3" text-anchor="end" fill="#3c3c3c" textLength="110" lengthAdjust="spacingAndGlyphs" xml:space="preserve">СТОРОНА   ОТСЕКА)</text>
<text x="1292" y="858.2" text-anchor="end" fill="#334" >СИН-БЕЛ</text>
<text x="1294.5" y="894.2" text-anchor="end" fill="#335" >СИН-ФИО</text>
<text x="1290.5" y="930.7" text-anchor="end" fill="#434" >ФИО-БЕЛ</text>
<text x="1292" y="966.7" text-anchor="end" fill="#453" >ЗЕЛЕ-ОРАН</text>
<text x="1388" y="1005" text-anchor="end" fill="#3c3c3c" textLength="113" lengthAdjust="spacingAndGlyphs" xml:space="preserve">РЕЛЕ ВЕНТИЛЯТОРА ОХ</text>
<text x="1388" y="1018.1" text-anchor="end" fill="#3c3c3c" textLength="95" lengthAdjust="spacingAndGlyphs" xml:space="preserve">НИЗ       (ЛЕВА</text>
<text x="1388" y="1031.2" text-anchor="end" fill="#3c3c3c" textLength="95" lengthAdjust="spacingAndGlyphs" xml:space="preserve">СКОРОС   СТОРО</text>
<text x="1388" y="1044.3" text-anchor="end" fill="#3c3c3c" textLength="100" lengthAdjust="spacingAndGlyphs" xml:space="preserve">МОТОРН   ОТСЕКА)</text>
<text x="1294" y="1076.7" text-anchor="end" fill="#444" >СЕР-СИН</text>
<text x="1291" y="1112.9" text-anchor="end" fill="#533" >КРА-БЕЛ</text>
<text x="1291" y="1149.2" text-anchor="end" fill="#434" >ФИО-БЕЛ</text>
<text x="1294" y="1185.2" text-anchor="end" fill="#2c5c2c" >ЗЕЛ-ЧЁР</text>
<text x="1388" y="1224" text-anchor="end" fill="#3c3c3c" textLength="125" lengthAdjust="spacingAndGlyphs" xml:space="preserve">РЕЛЕ ВЕНТИЛЯТОРА ОХЛА</text>
<text x="1388" y="1237.1" text-anchor="end" fill="#3c3c3c" textLength="62" lengthAdjust="spacingAndGlyphs" xml:space="preserve">(ВЫСОКАЯ С</text>
<text x="1388" y="1250.2" text-anchor="end" fill="#3c3c3c" textLength="157" lengthAdjust="spacingAndGlyphs" xml:space="preserve">СКОРОСТЬ) (ЛЕВАЯ СТОРОНА М</text>
<text x="1388" y="1263.3" text-anchor="end" fill="#3c3c3c" textLength="44" lengthAdjust="spacingAndGlyphs" xml:space="preserve">ОТСЕКА)</text>
<text x="1302" y="1295.8" text-anchor="end" fill="#445" >СВЕТ-СИН</text>
<text x="1294" y="1331.7" text-anchor="end" fill="#533" >КРА-ЧЁР</text>
<text x="1295" y="1367.5" text-anchor="end" fill="#453" >ЗЕЛЕ-ОРАН</text>
<text x="1290" y="1404" text-anchor="end" fill="#434" >ФИО-БЕЛ</text>
<text x="1388" y="1435.1" text-anchor="end" fill="#3c3c3c" textLength="112" lengthAdjust="spacingAndGlyphs" xml:space="preserve">РЕЛЕ ВЕНТИЛЯТОРА О</text>
<text x="1388" y="1448.2" text-anchor="end" fill="#3c3c3c" textLength="85" lengthAdjust="spacingAndGlyphs" xml:space="preserve">(НИЗК   ЛЕВАЯ</text>
<text x="1388" y="1461.3" text-anchor="end" fill="#3c3c3c" textLength="97" lengthAdjust="spacingAndGlyphs" xml:space="preserve">СКОРОС   СТОРО</text>
<text x="1388" y="1474.4" text-anchor="end" fill="#3c3c3c" textLength="101.5" lengthAdjust="spacingAndGlyphs" xml:space="preserve">МОТОРН   ОТСЕКА)</text>
<text x="232" y="1149.5" fill="#453" >ЗЕЛЕ-ОРАН</text>
<text x="230" y="1187.5" fill="#554" >ЖЕЛ</text>
<text x="108" y="1213.5" fill="#222" textLength="60" lengthAdjust="spacingAndGlyphs" xml:space="preserve">БЛОК УПРА</text>
<text x="108" y="1226.8" fill="#222" textLength="57" lengthAdjust="spacingAndGlyphs" xml:space="preserve">СИЛ  АГРЕГ</text>
<text x="108" y="1240.1" fill="#222" textLength="95" lengthAdjust="spacingAndGlyphs" xml:space="preserve">(ЛЕВАЯ СТОРОНА</text>
<text x="108" y="1253.4" fill="#222" textLength="77" lengthAdjust="spacingAndGlyphs" xml:space="preserve">МОТОРН  ОТСЕК</text>
<text x="108" y="1266.7" fill="#222" textLength="39" lengthAdjust="spacingAndGlyphs" xml:space="preserve">ОТСЕКА)</text>
<text x="643" y="560.5" text-anchor="end" fill="#444" >ФИО-БЕЛ</text>
<text x="641" y="589.5" text-anchor="end" fill="#444" >ФИО-БЕЛ</text>
<text x="641" y="694.5" text-anchor="end" fill="#444" >ФИО-БЕЛ</text>
<text x="665" y="609" font-size="10" fill="#777" >С100</text>
<text x="663" y="668" font-size="10" fill="#777" >С101</text>
<text x="712" y="623" font-size="10.5" >ЗАМОК ЗАЖИГ</text>
<text x="712" y="635.3" font-size="10.5" >ВЫКЛ</text>
<text x="712" y="647.6" font-size="10.5" >МНОГОФУНКЦ</text>
<text x="712" y="659.9" font-size="10.5" >ПЕРЕКЛ</text>
<text x="712" y="672.2" font-size="10.5" >БЛОКИР</text>
<text x="340" y="610" fill="#433" transform="rotate(-90 340 610)"  letter-spacing="-0.5">КРА-БЕЛ</text>
<text x="358" y="610" fill="#322" transform="rotate(-90 358 610)"  letter-spacing="-0.5">КРА-ЧЁР</text>
<text x="350" y="606" fill="#655" transform="rotate(-90 350 606)"  letter-spacing="-0.5">КРА-Ч</text>
<text x="817" y="1682.7" text-anchor="middle" fill="#444" textLength="86" lengthAdjust="spacingAndGlyphs">ЭЛЕКТРОДВИГАТЕЛ</text>
<text x="817" y="1694.7" text-anchor="middle" fill="#222" textLength="56" lengthAdjust="spacingAndGlyphs">ВЕНТИЛЯТ</text>
<text x="1229" y="1679" text-anchor="middle" fill="#454" textLength="100" lengthAdjust="spacingAndGlyphs">ЭЛЕКТРОДВИГАТЕЛЬ</text>
<text x="1229" y="1694.5" text-anchor="middle" fill="#343" textLength="50" lengthAdjust="spacingAndGlyphs">ВЕНТИЛЯТ</text>
<text x="1339" y="1632" text-anchor="middle" fill="#333" textLength="30" lengthAdjust="spacingAndGlyphs">G102</text>
<text x="1339" y="1644" text-anchor="middle" fill="#333" textLength="56" lengthAdjust="spacingAndGlyphs">(ЛЕВАЯ ПЕ</text>
<text x="1339" y="1656" text-anchor="middle" fill="#333" textLength="56" lengthAdjust="spacingAndGlyphs">СТОРОНА</text>
<text x="1339" y="1668" text-anchor="middle" fill="#333" textLength="40" lengthAdjust="spacingAndGlyphs">ОТСЕКА)</text>
<text x="943" y="1494" text-anchor="middle" fill="#333" >ЧЁР</text>
<text x="1153" y="1494" text-anchor="middle" fill="#333" >ЧЁР</text>
<text x="1251" y="1494" text-anchor="middle" fill="#333" >ЧЁР</text>
<text x="829" y="1551" fill="#333" transform="rotate(-90 829 1551)"  letter-spacing="-0.5">ЧЁР</text>
<text x="868" y="1551" fill="#333" transform="rotate(-90 868 1551)"  letter-spacing="-0.5">ЧЁР</text>
<text x="1230.5" y="1571" fill="#333" transform="rotate(-90 1230.5 1571)"  letter-spacing="-0.5">ЧЁР</text>
<text x="1267" y="1571" fill="#333" transform="rotate(-90 1267 1571)"  letter-spacing="-0.5">ЧЁР</text>
<text x="1340.5" y="1550" fill="#333" transform="rotate(-90 1340.5 1550)"  letter-spacing="-0.5">ЧЁР</text>
<text x="778" y="1550" fill="#444" transform="rotate(-90 778 1550)"  letter-spacing="-0.5">СЕР-СИН</text>
<text x="793" y="1550" fill="#446" transform="rotate(-90 793 1550)"  letter-spacing="-0.5">СВЕТ-СИ</text>
<text x="1178.5" y="1576" fill="#335" transform="rotate(-90 1178.5 1576)"  letter-spacing="-0.5">СИН-ФИО</text>
<text x="1193.5" y="1552" fill="#335" transform="rotate(-90 1193.5 1552)"  letter-spacing="-0.5">СИН-ФИО</text>
<text x="96" y="1709.5" font-size="8.5" fill="#666" textLength="110" lengthAdjust="spacingAndGlyphs">Подробнее на сайте 195843</text>
</g>
</g>
</g>
</svg>
</body>
</html>
